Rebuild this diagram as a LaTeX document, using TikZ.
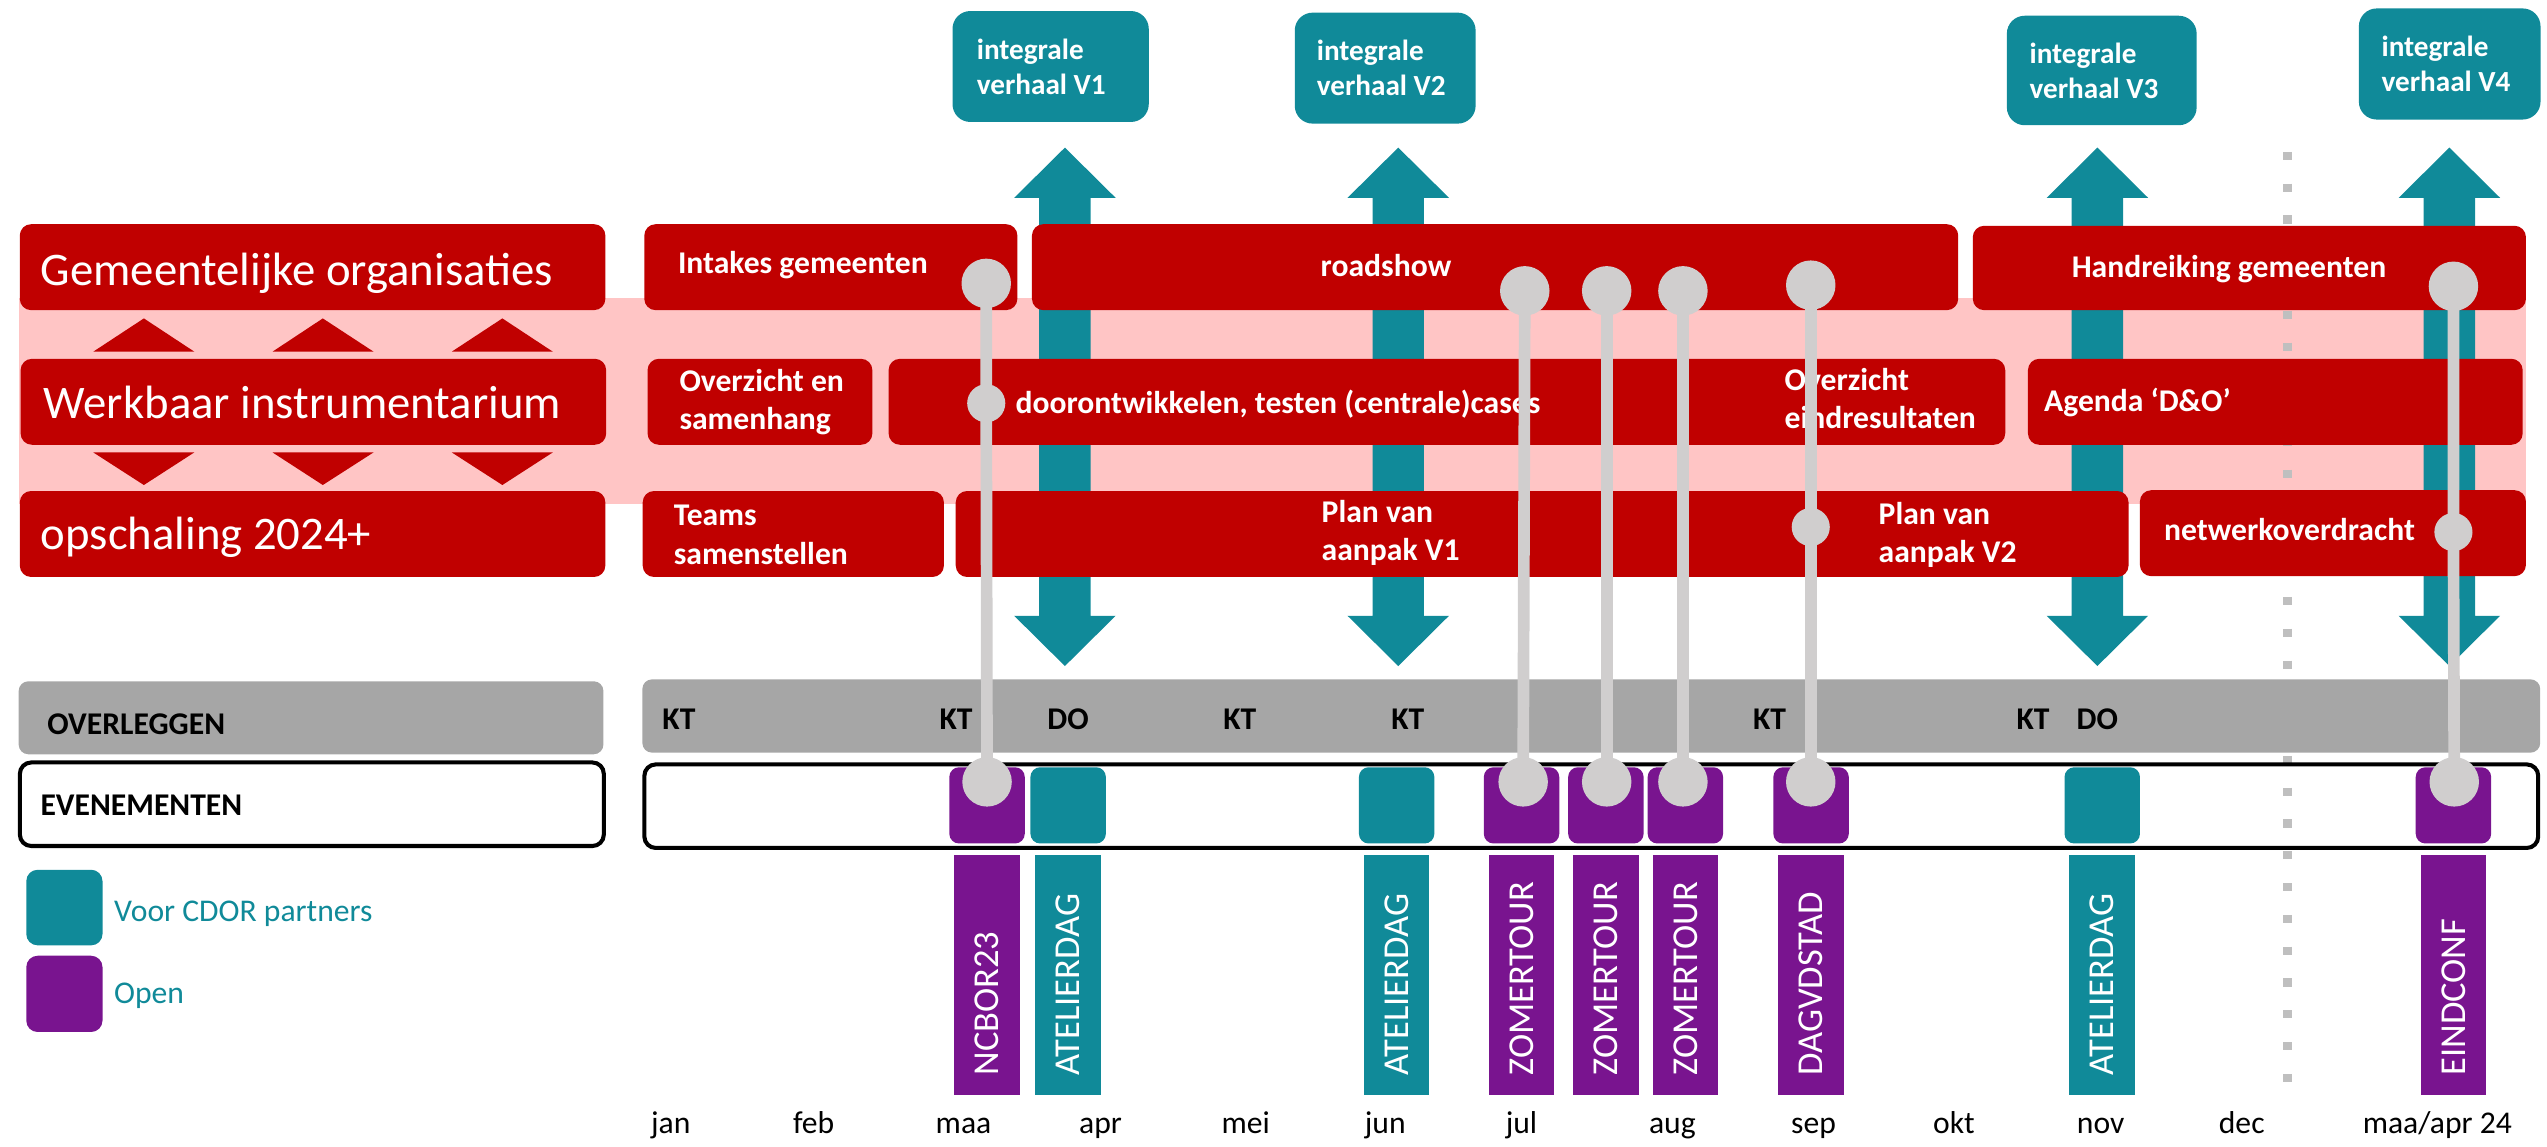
\documentclass[tikz,border=0pt]{standalone}
\usepackage{fontspec}
\setmainfont{Carlito}
\definecolor{cdred}{HTML}{C00000}
\definecolor{cdpink}{HTML}{FFC5C5}
\definecolor{cdteal}{HTML}{108A99}
\definecolor{cdpurple}{HTML}{79148F}
\definecolor{cdgray}{HTML}{A6A6A6}
\definecolor{pingray}{HTML}{D0CECE}
\definecolor{dashgray}{HTML}{BFBFBF}
\begin{document}
\begin{tikzpicture}[x=1pt,y=-1pt,
	redbox/.style={fill=cdred,rounded corners=7pt,inner sep=0,anchor=north west},
	tealbox/.style={fill=cdteal,rounded corners=11pt,inner sep=0,anchor=north west},
	bigtxt/.style={anchor=base west,inner sep=0,text=white,font=\fontsize{28.8}{34}\selectfont},
	boxtxt/.style={anchor=base west,inner sep=0,text=white,align=left,font=\fontsize{19.5}{23.5}\selectfont\bfseries},
	tealtxt/.style={anchor=base west,inner sep=0,text=white,align=left,font=\fontsize{18}{21.6}\selectfont\bfseries},
	meettxt/.style={anchor=base west,inner sep=0,font=\fontsize{19.5}{23.5}\selectfont\bfseries},
	evsq/.style={rounded corners=6pt,inner sep=0,minimum width=46.5,minimum height=47},
	evbar/.style={inner sep=0,minimum width=40.5,minimum height=148},
	evtxt/.style={rotate=90,anchor=west,inner sep=0,text=white,font=\fontsize{22.5}{27}\selectfont},
	pinbig/.style={circle,fill=pingray,inner sep=0,minimum size=30.5},
	pinsmall/.style={circle,fill=pingray,inner sep=0,minimum size=23.5},
	pinline/.style={draw=pingray,line width=7.2},
	month/.style={anchor=base,inner sep=0,font=\fontsize{19.5}{23.5}\selectfont}]
\useasboundingbox (0,0) rectangle (1570.2,706.5);

% background band and year split
\fill[cdpink] (12,184) rectangle (1557,311);
\draw[dashgray,line width=5.5,dash pattern=on 5 off 14.6] (1410,93.6) -- (1410,670);

% teal arrows up and down
\fill[cdteal] (656.5,91) -- ++(31.3,31) -- ++(-15.45,0) -- ++(0,257.6) -- ++(15.45,0) -- ++(-31.3,31) -- ++(-31.3,-31) -- ++(15.45,0) -- ++(0,-257.6) -- ++(-15.45,0) -- cycle;
\fill[cdteal] (862,91) -- ++(31.3,31) -- ++(-15.45,0) -- ++(0,257.6) -- ++(15.45,0) -- ++(-31.3,31) -- ++(-31.3,-31) -- ++(15.45,0) -- ++(0,-257.6) -- ++(-15.45,0) -- cycle;
\fill[cdteal] (1293,91) -- ++(31.3,31) -- ++(-15.45,0) -- ++(0,257.6) -- ++(15.45,0) -- ++(-31.3,31) -- ++(-31.3,-31) -- ++(15.45,0) -- ++(0,-257.6) -- ++(-15.45,0) -- cycle;
\fill[cdteal] (1510,91) -- ++(31.3,31) -- ++(-15.45,0) -- ++(0,257.6) -- ++(15.45,0) -- ++(-31.3,31) -- ++(-31.3,-31) -- ++(15.45,0) -- ++(0,-257.6) -- ++(-15.45,0) -- cycle;

% integrale verhaal
\node[tealbox,minimum width=121,minimum height=68.4](verhaal1) at (587,6.6){};
\node[tealtxt](verhaal1txt) at (602,58.2){integrale\\verhaal V1};
\node[tealbox,minimum width=111.5,minimum height=68.4](verhaal2) at (798,7.6){};
\node[tealtxt](verhaal2txt) at (811.6,59.1){integrale\\verhaal V2};
\node[tealbox,minimum width=117,minimum height=67.5](verhaal3) at (1237,9.5){};
\node[tealtxt](verhaal3txt) at (1251,60.9){integrale\\verhaal V3};
\node[tealbox,minimum width=112,minimum height=68.5](verhaal4) at (1454,5){};
\node[tealtxt](verhaal4txt) at (1468,56.6){integrale\\verhaal V4};

% left column
\node[redbox,minimum width=361,minimum height=53](gemeente) at (12,138){};
\node[bigtxt](gemeentetxt) at (25,175.7){Gemeentelijke organisaties};
\node[redbox,minimum width=361,minimum height=53](werkbaar) at (12.5,221){};
\node[bigtxt](werkbaartxt) at (26.8,258){Werkbaar instrumentarium};
\node[redbox,minimum width=361,minimum height=53](opschaling) at (12,302.5){};
\node[bigtxt](opschalingtxt) at (25,339){opschaling 2024+};

\fill[cdred] (88.7,196.3) -- (119.8,216.8) -- (57.5,216.8) -- cycle;
\fill[cdred] (199,196.3) -- (230.3,216.8) -- (168,216.8) -- cycle;
\fill[cdred] (309.7,196.3) -- (340.8,216.8) -- (278.5,216.8) -- cycle;
\fill[cdred] (88.7,299) -- (119.8,278.9) -- (57.5,278.9) -- cycle;
\fill[cdred] (199,299) -- (230.3,278.9) -- (168,278.9) -- cycle;
\fill[cdred] (309.7,299) -- (340.8,278.9) -- (278.5,278.9) -- cycle;

% row 1
\node[redbox,minimum width=230,minimum height=53](intakes) at (397,138){};
\node[boxtxt](intakestxt) at (417.8,168.5){Intakes gemeenten};
\node[redbox,minimum width=571,minimum height=53](roadshow) at (636,138){};
\node[boxtxt](roadshowtxt) at (814,170.3){roadshow};
\node[redbox,minimum width=341,minimum height=52](handreiking) at (1216,139){};
\node[boxtxt](handreikingtxt) at (1277,171){Handreiking gemeenten};

% row 2
\node[redbox,minimum width=138.6,minimum height=53](overzicht) at (399,221){};
\node[boxtxt](overzichttxt) at (418.7,265){Overzicht en\\samenhang};
\node[redbox,minimum width=688.4,minimum height=53](doorontw) at (547.6,221){};
\node[boxtxt](doorontwtxt) at (625.9,254.8){doorontwikkelen, testen (centrale)cases};
\node[boxtxt](eindrestxt) at (1100,264.2){Overzicht\\eindresultaten};
\node[redbox,minimum width=305,minimum height=53](agenda) at (1250,221){};
\node[boxtxt](agendatxt) at (1260,253.6){Agenda ‘D\&O’};

% row 3
\node[redbox,minimum width=185.7,minimum height=53](teams) at (396,302.5){};
\node[boxtxt](teamstxt) at (415.2,347.7){Teams\\samenstellen};
\node[redbox,minimum width=723,minimum height=53](planvan) at (589,302.5){};
\node[boxtxt](plan1txt) at (814.6,345.7){Plan van\\aanpak V1};
\node[boxtxt](plan2txt) at (1158,346.8){Plan van\\aanpak V2};
\node[redbox,minimum width=238,minimum height=53](netwerk) at (1319,302){};
\node[boxtxt](netwerktxt) at (1334,333){netwerkoverdracht};

% overleggen
\node[fill=cdgray,rounded corners=6pt,inner sep=0,minimum width=360.5,minimum height=45](overleggen) at (191.75,442.5){};
\node[meettxt](overleggentxt) at (29,453){OVERLEGGEN};
\node[fill=cdgray,rounded corners=6pt,inner sep=0,minimum width=1170,minimum height=45.2](meetings) at (981,441.4){};
\node[meettxt](kt1) at (408.2,449.6){KT};
\node[meettxt](kt2) at (579,449.6){KT};
\node[meettxt](do1) at (645.5,449.6){DO};
\node[meettxt](kt3) at (754,449.6){KT};
\node[meettxt](kt4) at (857.5,449.6){KT};
\node[meettxt](kt5) at (1080.6,449.6){KT};
\node[meettxt](kt6) at (1243,449.6){KT};
\node[meettxt](do2) at (1280,449.6){DO};

% evenementen
\node[draw,line width=2.5,rounded corners=7pt,inner sep=0,minimum width=360,minimum height=51.5](evenementen) at (192.25,495.8){};
\node[meettxt](evenemententxt) at (24.8,502.5){EVENEMENTEN};
\node[draw,line width=2.5,rounded corners=7pt,inner sep=0,minimum width=1167.5,minimum height=51.5](events) at (981,497){};

\node[evsq,fill=cdpurple](ncborsq) at (608.5,496.5){};
\node[evbar,fill=cdpurple](ncborbar) at (608.5,601){};
\node[evtxt](ncbortxt) at ([yshift=12pt]ncborbar.south){NCBOR23};
\node[evsq,fill=cdteal](atel1sq) at (658.5,496.5){};
\node[evbar,fill=cdteal](atel1bar) at (658.5,601){};
\node[evtxt](atel1txt) at ([yshift=12pt]atel1bar.south){ATELIERDAG};
\node[evsq,fill=cdteal](atel2sq) at (861,496.5){};
\node[evbar,fill=cdteal](atel2bar) at (861,601){};
\node[evtxt](atel2txt) at ([yshift=12pt]atel2bar.south){ATELIERDAG};
\node[evsq,fill=cdpurple](zomer1sq) at (938,496.5){};
\node[evbar,fill=cdpurple](zomer1bar) at (938,601){};
\node[evtxt](zomer1txt) at ([yshift=12pt]zomer1bar.south){ZOMERTOUR};
\node[evsq,fill=cdpurple](zomer2sq) at (990,496.5){};
\node[evbar,fill=cdpurple](zomer2bar) at (990,601){};
\node[evtxt](zomer2txt) at ([yshift=12pt]zomer2bar.south){ZOMERTOUR};
\node[evsq,fill=cdpurple](zomer3sq) at (1039,496.5){};
\node[evbar,fill=cdpurple](zomer3bar) at (1039,601){};
\node[evtxt](zomer3txt) at ([yshift=12pt]zomer3bar.south){ZOMERTOUR};
\node[evsq,fill=cdpurple](dagvdsq) at (1116.5,496.5){};
\node[evbar,fill=cdpurple](dagvdbar) at (1116.5,601){};
\node[evtxt](dagvdtxt) at ([yshift=12pt]dagvdbar.south){DAGVDSTAD};
\node[evsq,fill=cdteal](atel3sq) at (1296,496.5){};
\node[evbar,fill=cdteal](atel3bar) at (1296,601){};
\node[evtxt](atel3txt) at ([yshift=12pt]atel3bar.south){ATELIERDAG};
\node[evsq,fill=cdpurple](eindsq) at (1512.5,496.5){};
\node[evbar,fill=cdpurple](eindbar) at (1512.5,601){};
\node[evtxt](eindtxt) at ([yshift=12pt]eindbar.south){EINDCONF};

% links from the rows to the events
\node[pinbig](pin1a) at (608,174.7){};
\node[pinsmall](pin1b) at (608,248.6){};
\node[pinbig](pin1c) at (608.5,482){};
\draw[pinline](pin1a.center)--(pin1b.center)--(pin1c.center);
\node[pinbig](pin2a) at (940,179.3){};
\node[pinbig](pin2c) at (939,482){};
\draw[pinline](pin2a.center)--(pin2c.center);
\node[pinbig](pin3a) at (990.5,179.3){};
\node[pinbig](pin3c) at (990.5,482){};
\draw[pinline](pin3a.center)--(pin3c.center);
\node[pinbig](pin4a) at (1037.5,179.3){};
\node[pinbig](pin4c) at (1037.5,482){};
\draw[pinline](pin4a.center)--(pin4c.center);
\node[pinbig](pin5a) at (1116.3,175.8){};
\node[pinsmall](pin5b) at (1116.3,324.9){};
\node[pinbig](pin5c) at (1116.3,482){};
\draw[pinline](pin5a.center)--(pin5b.center)--(pin5c.center);
\node[pinbig](pin6a) at (1512.5,176.5){};
\node[pinsmall](pin6b) at (1512.5,328){};
\node[pinbig](pin6c) at (1513,482){};
\draw[pinline](pin6a.center)--(pin6b.center)--(pin6c.center);

% legend
\node[fill=cdteal,rounded corners=7pt,inner sep=0,anchor=north west,minimum width=47,minimum height=46.6](legpartner) at (16,536){};
\node[anchor=base west,inner sep=0,text=cdteal,font=\fontsize{19.5}{23.5}\selectfont](legpartnertxt) at (70.2,568){Voor CDOR partners};
\node[fill=cdpurple,rounded corners=7pt,inner sep=0,anchor=north west,minimum width=47,minimum height=47](legopen) at (16,589){};
\node[anchor=base west,inner sep=0,text=cdteal,font=\fontsize{19.5}{23.5}\selectfont](legopentxt) at (70.2,618.4){Open};

% months
\node[month](mjan) at (413.5,699){jan};
\node[month](mfeb) at (501.6,699){feb};
\node[month](mmaa) at (594,699){maa};
\node[month](mapr) at (678.5,699){apr};
\node[month](mmei) at (768,699){mei};
\node[month](mjun) at (854,699){jun};
\node[month](mjul) at (938,699){jul};
\node[month](maug) at (1031,699){aug};
\node[month](msep) at (1118,699){sep};
\node[month](mokt) at (1204.6,699){okt};
\node[month](mnov) at (1295,699){nov};
\node[month](mdec) at (1382,699){dec};
\node[month](mmaa24) at (1502.6,699){maa/apr 24};
\end{tikzpicture}
\end{document}
